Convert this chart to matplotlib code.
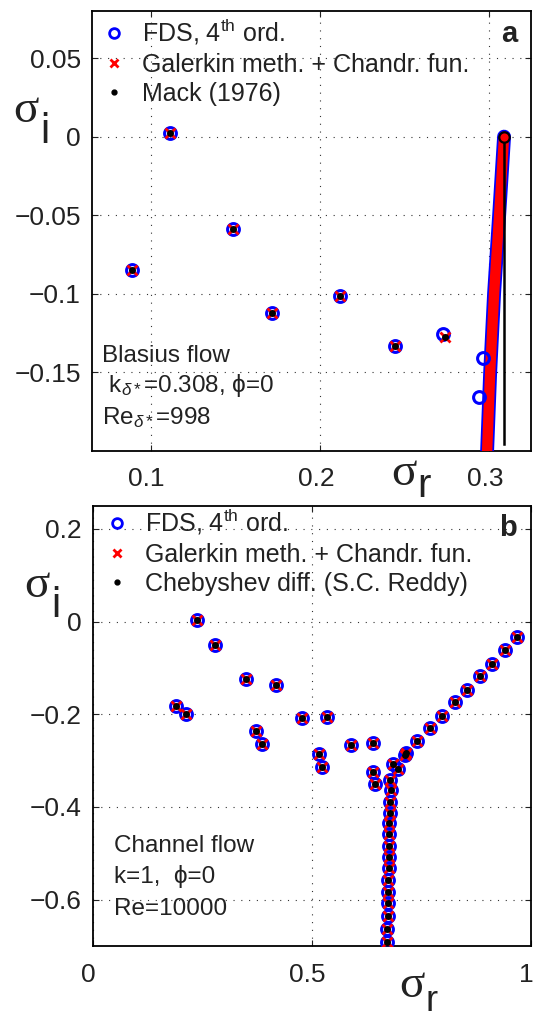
import matplotlib
matplotlib.use('Agg')
import matplotlib.pyplot as plt
import matplotlib.transforms as mtransforms

W, H, DPI = 533, 1017, 100

plt.rcParams['font.family'] = ['Liberation Sans', 'DejaVu Sans']
plt.rcParams['mathtext.fontset'] = 'custom'
plt.rcParams['mathtext.rm'] = 'Liberation Sans'
plt.rcParams['mathtext.it'] = 'Liberation Sans:italic'
plt.rcParams['mathtext.bf'] = 'Liberation Sans:bold'
plt.rcParams['axes.unicode_minus'] = True

# ---------------- Panel a : Blasius flow ----------------
a_fds_r = [0.0889, 0.1117, 0.1489, 0.1715, 0.2116, 0.2443, 0.2724, 0.2939, 0.2959]
a_fds_i = [-0.0852, 0.0024, -0.0590, -0.1124, -0.1018, -0.1336, -0.1255, -0.1658, -0.1408]
a_gal_r = [0.0889, 0.1117, 0.1489, 0.1715, 0.2116, 0.2443, 0.2736]
a_gal_i = [-0.0852, 0.0024, -0.0590, -0.1124, -0.1018, -0.1336, -0.1277]
a_mack_r = [0.0889, 0.1117, 0.1489, 0.1715, 0.2116, 0.2443, 0.2736]
a_mack_i = [-0.0852, 0.0024, -0.0590, -0.1124, -0.1018, -0.1336, -0.1277]
# continuous branch (dense FDS / Galerkin eigenvalues)
a_branch_r = [0.2986, 0.3004, 0.3027, 0.3057, 0.3086]
a_branch_i = [-0.2000, -0.1500, -0.1000, -0.0500, 0.0000]
# Mack continuous spectrum
a_mack_cont_r = [0.3086, 0.3086]
a_mack_cont_i = [0.0000, -0.1960]

# ---------------- Panel b : Channel flow ----------------
b_r = [0.2384, 0.2788, 0.3510, 0.4185, 0.1903, 0.2136, 0.4775, 0.5345, 0.3719,
       0.3859, 0.5900, 0.6398, 0.5158, 0.5245, 0.6395, 0.6448, 0.6860, 0.6965,
       0.9688, 0.9408, 0.9118, 0.8842, 0.8554, 0.8262, 0.7977, 0.7697, 0.7412,
       0.7130, 0.7160,
       0.6795, 0.6805, 0.6790, 0.6780, 0.6775, 0.6770, 0.6765, 0.6760, 0.6755,
       0.6750, 0.6745, 0.6740, 0.6735, 0.6730, 0.6727]
b_i = [0.0043, -0.0504, -0.1239, -0.1377, -0.1816, -0.1989, -0.2083, -0.2054, -0.2371,
       -0.2645, -0.2665, -0.2610, -0.2854, -0.3135, -0.3240, -0.3515, -0.3070, -0.3185,
       -0.0335, -0.0624, -0.0908, -0.1175, -0.1470, -0.1744, -0.2028, -0.2306, -0.2580,
       -0.2870, -0.2845,
       -0.3416, -0.3632, -0.3885, -0.4123, -0.4353, -0.4590, -0.4837, -0.5075, -0.5326,
       -0.5579, -0.5832, -0.6083, -0.6350, -0.6623, -0.6913]

a_xticks = [0.1, 0.2, 0.3]
a_xticklabels = ['0.1', '0.2', '0.3']
a_yticks = [0.05, 0.0, -0.05, -0.1, -0.15]
a_yticklabels = ['0.05', '0', '\u22120.05', '\u22120.1', '\u22120.15']
b_xticks = [0.0, 0.5, 1.0]
b_xticklabels = ['0', '0.5', '1']
b_yticks = [0.2, 0.0, -0.2, -0.4, -0.6]
b_yticklabels = ['0.2', '0', '\u22120.2', '\u22120.4', '\u22120.6']

fig = plt.figure(figsize=(W / DPI, H / DPI), dpi=DPI)
axA = fig.add_axes([92 / W, 1 - 450.7 / H, 438.5 / W, 439.7 / H])
axB = fig.add_axes([92.7 / W, 1 - 946 / H, 438 / W, 440.3 / H])


def style(ax, xlim, ylim, xt, xl, yt, yl):
    ax.set_xlim(xlim)
    ax.set_ylim(ylim)
    ax.set_xticks(xt)
    ax.set_xticklabels(xl)
    ax.set_yticks(yt)
    ax.set_yticklabels(yl)
    ax.tick_params(direction='in', length=4, width=0.8, top=True, right=True,
                   labelsize=19, colors='#222222')
    ax.tick_params(axis='x', pad=12)
    ax.tick_params(axis='y', pad=8)
    ax.grid(True, ls=(0, (1, 6)), color='0.2', lw=0.8)
    for s in ax.spines.values():
        s.set_linewidth(1.3)
    off = mtransforms.ScaledTranslation(-4 / DPI, 0, fig.dpi_scale_trans)
    for lab in ax.get_xticklabels():
        lab.set_transform(lab.get_transform() + off)


style(axA, (0.0654, 0.3242), (-0.2, 0.08), a_xticks, a_xticklabels, a_yticks, a_yticklabels)
style(axB, (0.0, 1.0), (-0.7, 0.25), b_xticks, b_xticklabels, b_yticks, b_yticklabels)

circ = dict(ls='none', marker='o', mfc='none', mec='blue', ms=8.5, mew=2.2)
cross = dict(ls='none', marker='x', color='red', ms=7, mew=2.0)
dot = dict(ls='none', marker='o', color='black', ms=4)

# panel a
axA.plot(a_branch_r, a_branch_i, color='blue', lw=10, solid_capstyle='round', zorder=3)
axA.plot(a_branch_r, a_branch_i, color='red', lw=7.5, solid_capstyle='round', zorder=3)
axA.plot(a_mack_cont_r, a_mack_cont_i, color='black', lw=1.8, zorder=4)
axA.plot(a_branch_r[-1:], a_branch_i[-1:], ls='none', marker='o', mfc='red', mec='black',
         ms=7.5, mew=1.6, zorder=5)
hA1, = axA.plot(a_fds_r, a_fds_i, zorder=5, **circ)
hA2, = axA.plot(a_gal_r, a_gal_i, zorder=6, **cross)
hA3, = axA.plot(a_mack_r, a_mack_i, zorder=7, **dot)

# panel b
hB1, = axB.plot(b_r, b_i, zorder=5, **circ)
hB2, = axB.plot(b_r, b_i, zorder=6, **cross)
hB3, = axB.plot(b_r, b_i, zorder=7, **dot)

leg_kw = dict(loc='upper left', frameon=False, fontsize=18, handlelength=1.0,
              handletextpad=0.6, labelspacing=0.22, borderpad=0, borderaxespad=0,
              numpoints=1)
legA = axA.legend([hA1, hA2, hA3],
                  ['FDS, 4$^{\\mathrm{th}}$ ord.', 'Galerkin meth. + Chandr. fun.', 'Mack (1976)'],
                  bbox_to_anchor=((101.5 - 92) / 438.5, (450.7 - 17) / 439.7), **leg_kw)
legB = axB.legend([hB1, hB2, hB3],
                  ['FDS, 4$^{\\mathrm{th}}$ ord.', 'Galerkin meth. + Chandr. fun.',
                   'Chebyshev diff. (S.C. Reddy)'],
                  bbox_to_anchor=((104.8 - 92.7) / 438, (946 - 507) / 440.3), **leg_kw)
for lg in (legA, legB):
    for t in lg.get_texts():
        t.set_color('#222222')
    hs = getattr(lg, 'legend_handles', None) or getattr(lg, 'legendHandles', [])
    hs[0].set_markersize(7)
    hs[0].set_markeredgewidth(2.0)
    hs[1].set_markersize(6)
    hs[2].set_markersize(3.5)


def ftext(px, py, s, **kw):
    kw.setdefault('va', 'baseline')
    kw.setdefault('ha', 'left')
    kw.setdefault('color', '#222222')
    return fig.text(px / W, 1 - py / H, s, **kw)


# panel letters
ftext(517.3, 41.7, 'a', ha='right', fontsize=21, fontweight='bold')
ftext(517.3, 536, 'b', ha='right', fontsize=21, fontweight='bold')

# axis labels
serif = ['Liberation Serif', 'DejaVu Serif']
ftext(13, 121.7, '\u03c3', fontsize=34, family=serif)
ftext(40.5, 143.3, 'i', fontsize=30)
ftext(24, 596.7, '\u03c3', fontsize=34, family=serif)
ftext(51, 616.7, 'i', fontsize=30)
ftext(391, 485, '\u03c3', fontsize=34, family=serif)
ftext(417.5, 496.7, 'r', fontsize=29)
ftext(399, 996.7, '\u03c3', fontsize=34, family=serif)
ftext(426, 1011, 'r', fontsize=26)

# annotations
ftext(102, 361.7, 'Blasius flow', fontsize=17.5)
ftext(102, 391.7, ' $\\mathrm{k}_{\\delta*}$=0.308, \u03d5=0', fontsize=17.5)
ftext(102, 424.3, '$\\mathrm{Re}_{\\delta*}$=998', fontsize=17.5)
ftext(114.5, 851.7, 'Channel flow', fontsize=17.5)
ftext(114.5, 883.3, 'k=1,  \u03d5=0', fontsize=17.5)
ftext(114.5, 915, 'Re=10000', fontsize=17.5)

fig.savefig('out.png', dpi=DPI)
